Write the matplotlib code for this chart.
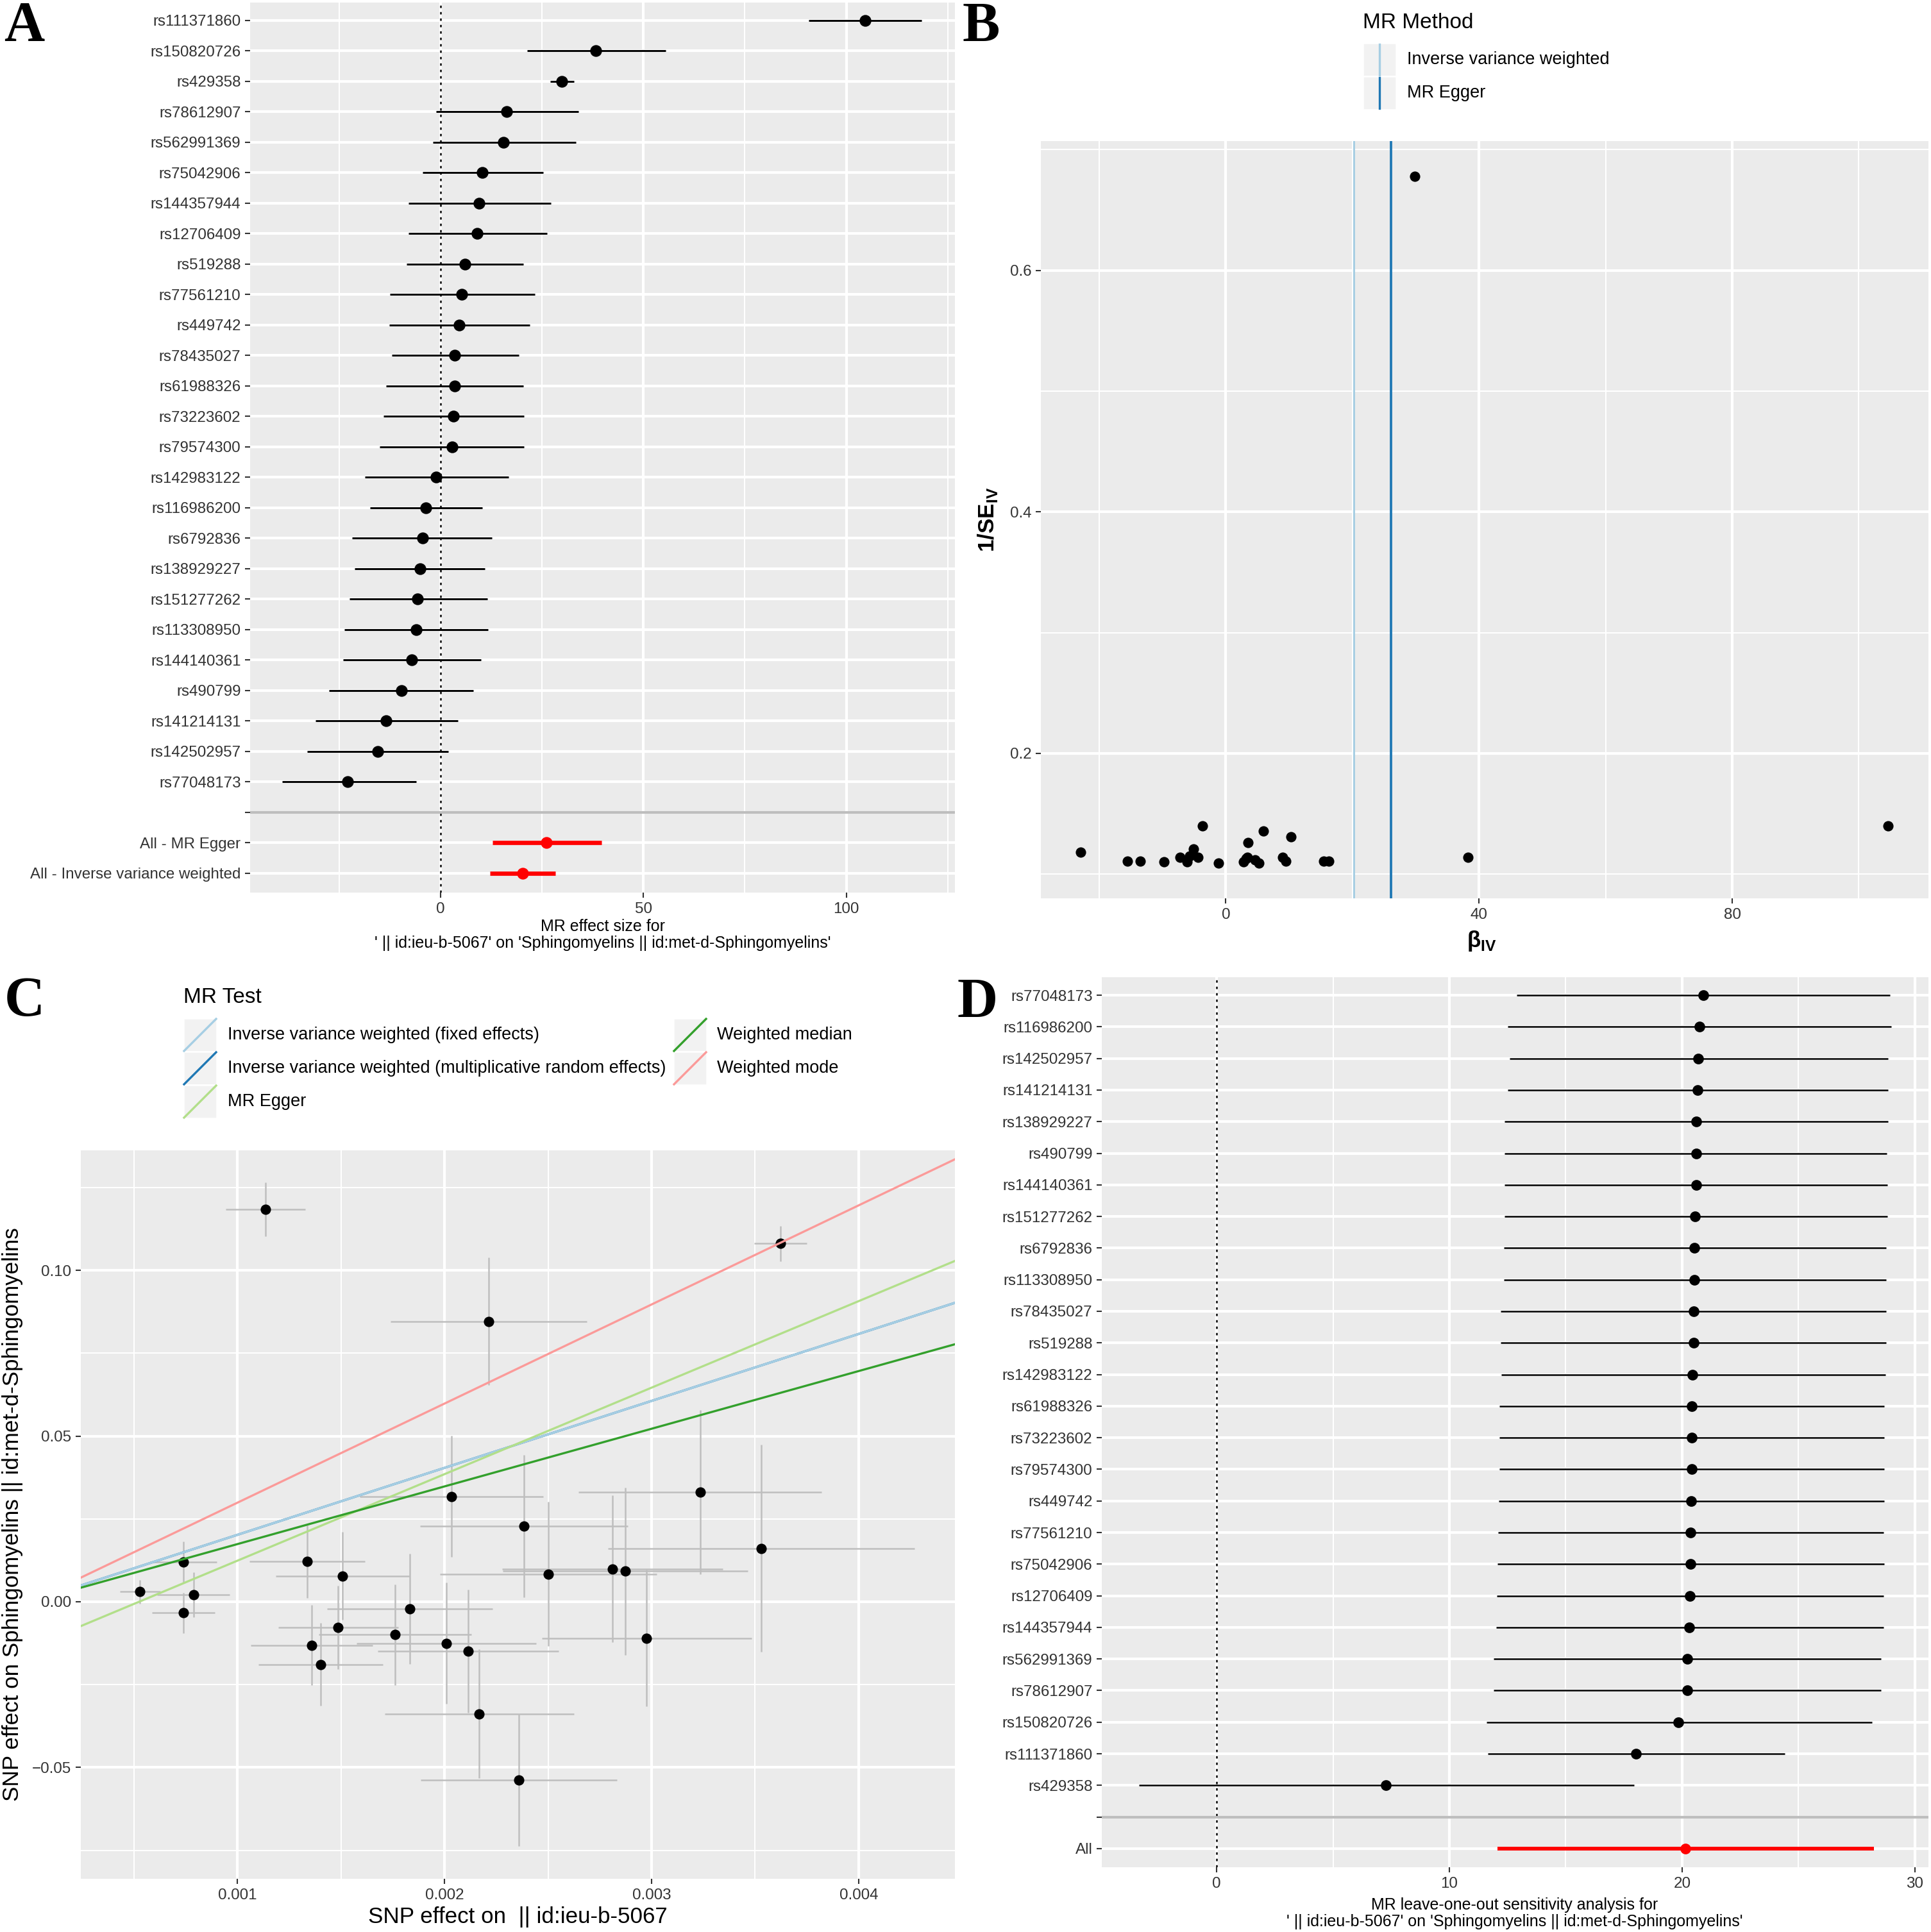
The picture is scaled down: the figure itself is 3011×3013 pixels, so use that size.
import matplotlib
matplotlib.use('Agg')
import matplotlib.pyplot as plt
from matplotlib.lines import Line2D
from matplotlib.patches import Rectangle

plt.rcParams['font.family'] = ['Liberation Sans', 'DejaVu Sans']
plt.rcParams['axes.unicode_minus'] = True
plt.rcParams['mathtext.fontset'] = 'custom'
plt.rcParams['mathtext.rm'] = 'Liberation Sans'
plt.rcParams['mathtext.bf'] = 'Liberation Sans:bold'

W, H = 3012, 3013
DPI = 300

# ---------------- data ----------------
# A: single SNP forest plot (top to bottom)
snps_a = ['rs111371860', 'rs150820726', 'rs429358', 'rs78612907', 'rs562991369', 'rs75042906',
          'rs144357944', 'rs12706409', 'rs519288', 'rs77561210', 'rs449742', 'rs78435027',
          'rs61988326', 'rs73223602', 'rs79574300', 'rs142983122', 'rs116986200', 'rs6792836',
          'rs138929227', 'rs151277262', 'rs113308950', 'rs144140361', 'rs490799', 'rs141214131',
          'rs142502957', 'rs77048173']
beta_a = [104.6, 38.3, 29.9, 16.3, 15.5, 10.3, 9.5, 9.0, 6.0, 5.2, 4.6, 3.5, 3.4, 3.2, 2.8, -1.1,
          -3.7, -4.4, -5.1, -5.7, -6.1, -7.2, -9.7, -13.5, -15.5, -22.9]
lo_a = [90.8, 21.3, 27.0, -1.2, -2.0, -4.4, -8.0, -8.0, -8.4, -12.6, -12.7, -12.0, -13.5, -14.1,
        -15.0, -18.7, -17.5, -21.8, -21.2, -22.5, -23.8, -24.1, -27.5, -30.8, -33.0, -39.1]
hi_a = [118.6, 55.5, 32.8, 33.9, 33.3, 25.2, 27.1, 26.2, 20.4, 23.2, 21.9, 19.2, 20.4, 20.6, 20.6,
        16.7, 10.3, 12.6, 10.9, 11.5, 11.7, 10.0, 8.1, 4.3, 1.8, -6.1]
summary_a = ['All - MR Egger', 'All - Inverse variance weighted']
summary_beta = [26.1, 20.2]
summary_lo = [12.7, 12.1]
summary_hi = [39.6, 28.2]

# B: funnel plot
inv_se_b = [0.140, 0.114, 0.678, 0.111, 0.111, 0.131, 0.111, 0.114, 0.136, 0.109, 0.112, 0.126,
            0.114, 0.113, 0.110, 0.109, 0.140, 0.114, 0.121, 0.115, 0.110, 0.114, 0.110, 0.111,
            0.111, 0.118]
methods_b = ['Inverse variance weighted', 'MR Egger']
est_b = [20.2, 26.1]
colors_b = ['#A6CEE3', '#1F78B4']

# C: scatter plot
bx_c = [0.001135, 0.003622, 0.002213, 0.002033, 0.002384, 0.003234, 0.003529, 0.002502, 0.002811,
        0.002874, 0.002976, 0.000739, 0.000529, 0.000787, 0.000739, 0.001336, 0.001508, 0.001832,
        0.001486, 0.001760, 0.001357, 0.001402, 0.002009, 0.002114, 0.002168, 0.002360]
by_c = [0.1184, 0.1081, 0.0846, 0.0318, 0.0228, 0.0331, 0.0161, 0.0084, 0.0099, 0.0092, -0.0110,
        0.0120, 0.0030, 0.0021, -0.0034, 0.0121, 0.0078, -0.0021, -0.0077, -0.0099, -0.0131,
        -0.0189, -0.0125, -0.0149, -0.0338, -0.0538]
sex_c = [0.000191, 0.000126, 0.000474, 0.000444, 0.000502, 0.000586, 0.000740, 0.000523, 0.000532,
         0.000592, 0.000506, 0.000161, 0.0000976, 0.000174, 0.000152, 0.000278, 0.000323, 0.000401,
         0.000290, 0.000368, 0.000294, 0.000300, 0.000434, 0.000437, 0.000458, 0.000474]
sey_c = [0.0081, 0.0053, 0.0192, 0.0183, 0.0214, 0.0247, 0.0313, 0.0217, 0.0222, 0.0253, 0.0206,
         0.0062, 0.0036, 0.0067, 0.0061, 0.0110, 0.0133, 0.0166, 0.0126, 0.0152, 0.0121, 0.0125,
         0.0182, 0.0185, 0.0194, 0.0199]
methods_c = ['Inverse variance weighted (multiplicative random effects)',
             'Inverse variance weighted (fixed effects)', 'MR Egger', 'Weighted median',
             'Weighted mode']
slopes_c = [20.2, 20.2, 26.1, 17.4, 29.9]
intercepts_c = [0.0, 0.0, -0.0137, 0.0, 0.0]
colors_c = ['#1F78B4', '#A6CEE3', '#B2DF8A', '#33A02C', '#FB9A99']

# D: leave-one-out
snps_d = ['rs77048173', 'rs116986200', 'rs142502957', 'rs141214131', 'rs138929227', 'rs490799',
          'rs144140361', 'rs151277262', 'rs6792836', 'rs113308950', 'rs78435027', 'rs519288',
          'rs142983122', 'rs61988326', 'rs73223602', 'rs79574300', 'rs449742', 'rs77561210',
          'rs75042906', 'rs12706409', 'rs144357944', 'rs562991369', 'rs78612907', 'rs150820726',
          'rs111371860', 'rs429358']
beta_d = [20.91, 20.75, 20.70, 20.67, 20.62, 20.60, 20.60, 20.57, 20.54, 20.54, 20.49, 20.49, 20.46,
          20.41, 20.41, 20.41, 20.38, 20.36, 20.36, 20.33, 20.30, 20.22, 20.22, 19.85, 18.02, 7.28]
lo_d = [12.89, 12.52, 12.60, 12.52, 12.38, 12.38, 12.38, 12.36, 12.33, 12.33, 12.20, 12.20, 12.22,
        12.14, 12.14, 12.14, 12.12, 12.09, 12.06, 12.04, 12.01, 11.91, 11.91, 11.59, 11.64, -3.35]
hi_d = [28.94, 28.99, 28.86, 28.86, 28.86, 28.81, 28.83, 28.83, 28.78, 28.78, 28.78, 28.78, 28.73,
        28.70, 28.70, 28.70, 28.70, 28.67, 28.70, 28.65, 28.65, 28.54, 28.54, 28.17, 24.42, 17.94]
all_d = [20.14, 12.06, 28.25]

TITLE_TAIL = "' || id:ieu-b-5067' on 'Sphingomyelins || id:met-d-Sphingomyelins'"

TICK_FS = 5.8
LEG_FS = 6.5
LEG_TITLE_FS = 8.0
AXT_FS = 8.4
SMALL_FS = 6.0


# ---------------- helpers ----------------
def fx(x):
  return x / W


def fy(y):
  return 1 - y / H


def panel(fig, left, top, right, bottom):
  return fig.add_axes([fx(left), fy(bottom), (right - left) / W, (bottom - top) / H])


def gg_style(ax):
  ax.set_facecolor('#EBEBEB')
  for s in ax.spines.values():
    s.set_visible(False)
  ax.tick_params(which='major', length=2.0, width=0.5, color='#333333', labelsize=TICK_FS,
                 labelcolor='#333333', pad=1.5)
  ax.tick_params(which='minor', length=0)
  ax.grid(which='major', color='white', linewidth=1.0)
  ax.grid(which='minor', color='white', linewidth=0.5)
  ax.set_axisbelow(True)


def letter(fig, x, y, s):
  fig.text(fx(x), fy(y), s, fontsize=21, fontweight='bold', family='Liberation Serif',
           ha='center', va='center')


def key_box(fig, x0, y0, x1, y1):
  fig.add_artist(Rectangle((fx(x0), fy(y1)), (x1 - x0) / W, (y1 - y0) / H,
                           facecolor='#F2F2F2', edgecolor='white', linewidth=0.6,
                           transform=fig.transFigure))


fig = plt.figure(figsize=(W / DPI, H / DPI), dpi=DPI)

# ---------------- A ----------------
ax = panel(fig, 390, 4, 1489, 1392)
gg_style(ax)
n = len(snps_a)
ypos = list(range(n))
ypos_sum = [n + 1, n + 2]
ax.set_yticks(ypos + [n] + ypos_sum)
ax.set_yticklabels(snps_a + [''] + summary_a)
ax.set_xticks([0, 50, 100])
ax.set_xticks([-25, 25, 75, 125], minor=True)
ax.set_xlim(-47, 126.8)
ax.set_ylim(n + 2.64, -0.58)
ax.axvline(0, color='black', linestyle=(0, (1.5, 2.5)), linewidth=0.6)
ax.axhline(n, color='#BEBEBE', linewidth=1.0)
ax.hlines(ypos, lo_a, hi_a, color='black', linewidth=0.7)
ax.plot(beta_a, ypos, 'o', color='black', markersize=3.4)
ax.hlines(ypos_sum, summary_lo, summary_hi, color='red', linewidth=1.6)
ax.plot(summary_beta, ypos_sum, 'o', color='red', markersize=3.4)
fig.text(fx(940), fy(1445), 'MR effect size for', fontsize=SMALL_FS, ha='center', va='center')
fig.text(fx(940), fy(1471), TITLE_TAIL, fontsize=SMALL_FS, ha='center', va='center')
letter(fig, 38, 42, 'A')

# ---------------- B ----------------
ax = panel(fig, 1623, 220, 3007, 1401)
gg_style(ax)
ax.scatter(beta_a, inv_se_b, s=15, color='black', zorder=3, linewidths=0)
for est, col, lw in zip(est_b, colors_b, [0.7, 0.9]):
  ax.axvline(est, color=col, linewidth=lw)
ax.set_xlim(-29.2, 111.0)
ax.set_ylim(0.080, 0.707)
ax.set_xticks([0, 40, 80])
ax.set_xticks([-20, 20, 60, 100], minor=True)
ax.set_yticks([0.2, 0.4, 0.6])
ax.set_yticks([0.1, 0.3, 0.5, 0.7], minor=True)
fig.text(fx(2310), fy(1468), r'$\mathbf{\beta}_{\mathbf{IV}}$', fontsize=AXT_FS, ha='center',
         va='center')
fig.text(fx(1540), fy(810), r'$\mathbf{1/SE}_{\mathbf{IV}}$', fontsize=AXT_FS, ha='center',
         va='center', rotation=90)
fig.text(fx(2125), fy(35), 'MR Method', fontsize=LEG_TITLE_FS, ha='left', va='center')
for i, (m, col) in enumerate(zip(methods_b, colors_b)):
  y0 = 67 + i * 52
  key_box(fig, 2125, y0, 2177, y0 + 52)
  fig.add_artist(Line2D([fx(2151), fx(2151)], [fy(y0 + 2), fy(y0 + 50)], color=col,
                        linewidth=0.8, transform=fig.transFigure))
  fig.text(fx(2194), fy(y0 + 26), m, fontsize=LEG_FS, ha='left', va='center')
letter(fig, 1530, 42, 'B')

# ---------------- C ----------------
ax = panel(fig, 126, 1794, 1489, 2930)
gg_style(ax)
ax.errorbar(bx_c, by_c, xerr=sex_c, yerr=sey_c, fmt='none', ecolor='#BEBEBE', elinewidth=0.6,
            capsize=0, zorder=2)
ax.scatter(bx_c, by_c, s=15, color='black', zorder=3, linewidths=0)
for sl, ic, col in zip(slopes_c, intercepts_c, colors_c):
  ax.axline((0, ic), slope=sl, color=col, linewidth=0.8, zorder=4)
ax.set_xlim(0.000243, 0.004465)
ax.set_ylim(-0.0836, 0.1362)
ax.set_xticks([0.001, 0.002, 0.003, 0.004])
ax.set_xticklabels(['0.001', '0.002', '0.003', '0.004'])
ax.set_xticks([0.0005, 0.0015, 0.0025, 0.0035], minor=True)
ax.set_yticks([-0.05, 0.0, 0.05, 0.10])
ax.set_yticklabels(['\u22120.05', '0.00', '0.05', '0.10'])
ax.set_yticks([-0.075, -0.025, 0.025, 0.075, 0.125], minor=True)
fig.text(fx(807), fy(2990), 'SNP effect on  || id:ieu-b-5067', fontsize=AXT_FS, ha='center',
         va='center')
fig.text(fx(20), fy(2362), 'SNP effect on Sphingomyelins || id:met-d-Sphingomyelins',
         fontsize=AXT_FS, ha='center', va='center', rotation=90)
fig.text(fx(286), fy(1556), 'MR Test', fontsize=LEG_TITLE_FS, ha='left', va='center')
legend_c = [(methods_c[1], colors_c[1], 286, 355, 0), (methods_c[0], colors_c[0], 286, 355, 1),
            (methods_c[2], colors_c[2], 286, 355, 2), (methods_c[3], colors_c[3], 1050, 1118, 0),
            (methods_c[4], colors_c[4], 1050, 1118, 1)]
for m, col, kx, tx, row in legend_c:
  y0 = 1588 + row * 52
  key_box(fig, kx, y0, kx + 52, y0 + 52)
  fig.add_artist(Line2D([fx(kx + 1), fx(kx + 51)], [fy(y0 + 51), fy(y0 + 1)], color=col,
                        linewidth=0.8, transform=fig.transFigure))
  fig.text(fx(tx), fy(y0 + 26), m, fontsize=LEG_FS, ha='left', va='center')
letter(fig, 38, 1563, 'C')

# ---------------- D ----------------
ax = panel(fig, 1718, 1524, 3007, 2912)
gg_style(ax)
nd = len(snps_d)
yd = list(range(nd))
ax.set_yticks(yd + [nd, nd + 1])
ax.set_yticklabels(snps_d + ['', 'All'])
ax.set_xticks([0, 10, 20, 30])
ax.set_xticks([5, 15, 25], minor=True)
ax.set_xlim(-4.94, 30.59)
ax.set_ylim(nd + 1.59, -0.57)
ax.axvline(0, color='black', linestyle=(0, (1.5, 2.5)), linewidth=0.6)
ax.axhline(nd, color='#BEBEBE', linewidth=1.0)
ax.hlines(yd, lo_d, hi_d, color='black', linewidth=0.6)
ax.plot(beta_d, yd, 'o', color='black', markersize=3.0)
ax.hlines([nd + 1], [all_d[1]], [all_d[2]], color='red', linewidth=1.4)
ax.plot([all_d[0]], [nd + 1], 'o', color='red', markersize=3.0)
fig.text(fx(2362), fy(2971), 'MR leave-one-out sensitivity analysis for', fontsize=SMALL_FS,
         ha='center', va='center')
fig.text(fx(2362), fy(2997), TITLE_TAIL, fontsize=SMALL_FS, ha='center', va='center')
letter(fig, 1524, 1565, 'D')

fig.savefig('out.png', dpi=DPI)
